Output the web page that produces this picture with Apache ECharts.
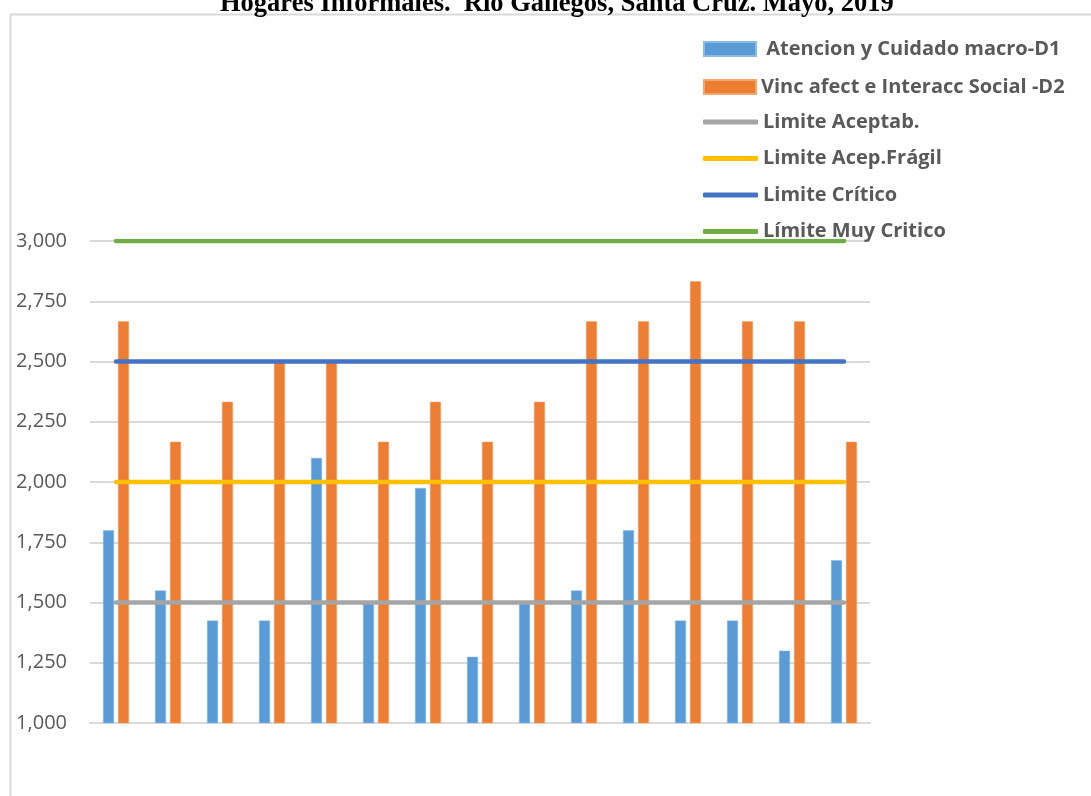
<!DOCTYPE html>
<html>
<head>
<meta charset="utf-8">
<script src="https://cdn.jsdelivr.net/npm/echarts@6/dist/echarts.min.js"></script>
<style>
  html, body { margin: 0; padding: 0; background: #fff; }
  #chart { width: 1091px; height: 796px; }
</style>
</head>
<body>
<div id="chart"></div>
<script>
var categories = ['1', '2', '3', '4', '5', '6', '7', '8', '9', '10', '11', '12', '13', '14', '15'];
var atencionD1 = [1800, 1550, 1425, 1425, 2100, 1500, 1975, 1275, 1500, 1550, 1800, 1425, 1425, 1300, 1675];
var vinculoD2 = [2667, 2167, 2333, 2500, 2500, 2167, 2333, 2167, 2333, 2667, 2667, 2833, 2667, 2667, 2167];
var limiteAceptab = [1500, 1500, 1500, 1500, 1500, 1500, 1500, 1500, 1500, 1500, 1500, 1500, 1500, 1500, 1500];
var limiteFragil = [2000, 2000, 2000, 2000, 2000, 2000, 2000, 2000, 2000, 2000, 2000, 2000, 2000, 2000, 2000];
var limiteCritico = [2500, 2500, 2500, 2500, 2500, 2500, 2500, 2500, 2500, 2500, 2500, 2500, 2500, 2500, 2500];
var limiteMuyCritico = [3000, 3000, 3000, 3000, 3000, 3000, 3000, 3000, 3000, 3000, 3000, 3000, 3000, 3000, 3000];

var chart = echarts.init(document.getElementById('chart'));

var legendText = {
	fontFamily: 'Open Sans',
	fontWeight: 'bold',
	fontSize: 20,
	lineHeight: 20,
	color: '#595959'
};

function limitLine(name, data, color) {
	return {
		name: name,
		type: 'line',
		data: data,
		symbol: 'none',
		silent: true,
		lineStyle: { color: color, width: 4.5, cap: 'round' },
		itemStyle: { color: color }
	};
}

var option = {
	animation: false,
	title: {
		text: 'Hogares Informales.  Río Gallegos, Santa Cruz. Mayo, 2019',
		left: 215,
		top: -14,
		textStyle: {
			fontFamily: 'Liberation Serif',
			fontWeight: 'bold',
			fontSize: 26.5,
			color: '#000'
		}
	},
	graphic: [
		{
			type: 'rect',
			shape: { x: 10.5, y: 14.5, width: 1200, height: 900 },
			style: { fill: 'none', stroke: '#d9d9d9', lineWidth: 2 },
			silent: true
		}
	],
	legend: [
		{
			orient: 'vertical',
			left: 703,
			top: 39,
			padding: 0,
			itemWidth: 52,
			itemHeight: 14,
			itemGap: 18,
			textStyle: legendText,
			data: [
				{ name: ' Atencion y Cuidado macro-D1', icon: 'rect' },
				{ name: 'Vinc afect e Interacc Social -D2', icon: 'rect' }
			]
		},
		{
			orient: 'vertical',
			left: 703,
			top: 112,
			padding: 0,
			itemWidth: 55,
			itemHeight: 5,
			itemGap: 16.5,
			textStyle: legendText,
			data: [
				{ name: 'Limite Aceptab.', icon: 'roundRect' },
				{ name: 'Limite Acep.Frágil', icon: 'roundRect' },
				{ name: 'Limite Crítico', icon: 'roundRect' },
				{ name: 'Límite Muy Critico', icon: 'roundRect' }
			]
		}
	],
	grid: {
		left: 90,
		right: 221,
		top: 241,
		bottom: 73,
		containLabel: false
	},
	xAxis: {
		type: 'category',
		data: categories,
		axisLine: { lineStyle: { color: '#d9d9d9', width: 2 } },
		axisTick: { show: false },
		axisLabel: { show: false }
	},
	yAxis: {
		type: 'value',
		min: 1000,
		max: 3000,
		interval: 250,
		axisLine: { show: false },
		axisTick: { show: false },
		splitLine: { lineStyle: { color: '#d9d9d9', width: 2 } },
		axisLabel: {
			margin: 23,
			fontFamily: 'Open Sans',
			fontSize: 20,
			color: '#595959',
			formatter: function (v) { return v.toLocaleString('en-US'); }
		}
	},
	series: [
		{
			name: ' Atencion y Cuidado macro-D1',
			type: 'bar',
			data: atencionD1,
			barWidth: 11,
			barGap: '36%',
			itemStyle: { color: '#5B9BD5', borderColor: '#8cbae6', borderWidth: 0.5 }
		},
		{
			name: 'Vinc afect e Interacc Social -D2',
			type: 'bar',
			data: vinculoD2,
			barWidth: 11,
			barGap: '36%',
			itemStyle: { color: '#ED7D31', borderColor: '#f4a66f', borderWidth: 0.5 }
		},
		limitLine('Limite Aceptab.', limiteAceptab, '#A5A5A5'),
		limitLine('Limite Acep.Frágil', limiteFragil, '#FFC000'),
		limitLine('Limite Crítico', limiteCritico, '#4472C4'),
		limitLine('Límite Muy Critico', limiteMuyCritico, '#70AD47')
	]
};

chart.setOption(option);
</script>
</body>
</html>
